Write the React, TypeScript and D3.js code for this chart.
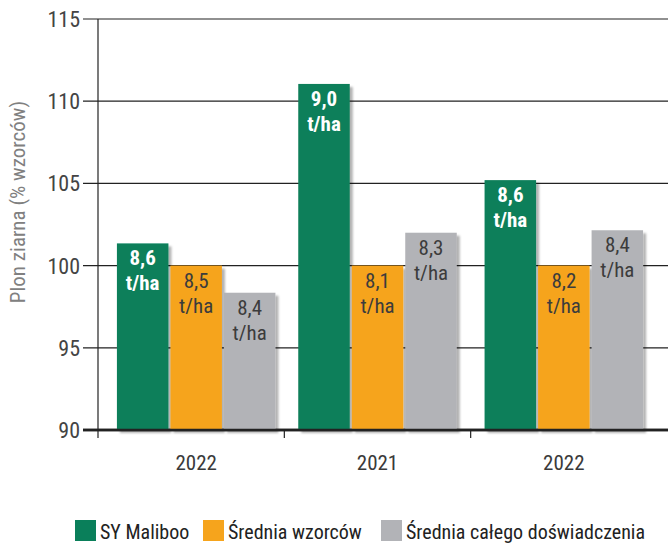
import React from "react";
import * as d3 from "d3";

// chart data
const years = ["2022", "2021", "2022 "];
const series = ["SY Maliboo", "Średnia wzorców", "Średnia całego doświadczenia"];
const colors = ["#0a7f5a", "#f6a41c", "#b2b3b7"];
// relative yield (% of standards)
const values = [
  [101.35, 100, 98.35],
  [111.05, 100, 102.0],
  [105.2, 100, 102.15],
];
// absolute yield labels
const yieldLabels = [
  ["8,6", "8,5", "8,4"],
  ["9,0", "8,1", "8,3"],
  ["8,6", "8,2", "8,4"],
];
const yTicks = [90, 95, 100, 105, 110, 115];

const W = 668;
const H = 550;
const FONT = "'Liberation Sans Narrow', 'Arial Narrow', 'Roboto Condensed', 'Liberation Sans', sans-serif";

const App = () => {
  const left = 98;
  const right = 657;
  const top = 19;
  const bottom = 430;

  const y = d3.scaleLinear().domain([90, 115]).range([bottom, top]);
  const x0 = d3.scaleBand().domain(years).range([left, right]);
  const barW = 51.5;
  const step = 53.5;
  const x1 = d3.scaleLinear().domain([0, 2]).range([-step, step]);
  // first group is drawn slightly right of its band centre in the original
  const groupShift = [5, 0, 0];

  const legendX = [75, 203, 381];

  return (
    <svg
      width={W}
      height={H}
      style={{ position: "fixed", left: 0, top: 0, background: "#fff" }}
      fontFamily={FONT}
    >
      <defs>
        <filter id="shadow" x="-20%" y="-20%" width="150%" height="150%">
          <feDropShadow dx="3" dy="3" stdDeviation="1.2" floodColor="#000" floodOpacity="0.3" />
        </filter>
      </defs>

      {/* gridlines + y ticks */}
      {yTicks.map((t) => (
        <g key={t}>
          <line x1={83} x2={W} y1={y(t)} y2={y(t)} stroke="#222" strokeWidth={t === 90 ? 2.5 : 1.2} />
          <text x={80} y={y(t)} dy="0.36em" textAnchor="end" fontSize={22} fill="#444">
            {t}
          </text>
        </g>
      ))}

      {/* y axis */}
      <line x1={left} x2={left} y1={top} y2={bottom + 8} stroke="#222" strokeWidth={1.2} />
      <text
        transform={`translate(25, 202) rotate(-90)`}
        textAnchor="middle"
        fontSize={21}
        fill="#808080"
      >
        Plon ziarna (% wzorców)
      </text>

      {/* bars */}
      {years.map((yr, gi) => {
        const cx = x0(yr)! + x0.bandwidth() / 2 + groupShift[gi];
        return (
          <g key={gi}>
            {values[gi].map((v, si) => {
              const bx = cx + x1(si) - barW / 2;
              const by = y(v);
              const white = si === 0;
              return (
                <g key={si}>
                  <rect
                    x={bx}
                    y={by}
                    width={barW}
                    height={bottom - by}
                    fill={colors[si]}
                    filter="url(#shadow)"
                  />
                  <text
                    x={bx + barW / 2}
                    y={by + 22}
                    textAnchor="middle"
                    fontSize={21}
                    fontWeight={white ? "bold" : "normal"}
                    fill={white ? "#fff" : "#3c3c3c"}
                  >
                    {yieldLabels[gi][si]}
                  </text>
                  <text
                    x={bx + barW / 2}
                    y={by + 47}
                    textAnchor="middle"
                    fontSize={21}
                    fontWeight={white ? "bold" : "normal"}
                    fill={white ? "#fff" : "#3c3c3c"}
                  >
                    t/ha
                  </text>
                </g>
              );
            })}
            <text x={cx} y={470} textAnchor="middle" fontSize={21} fill="#3a3a3a">
              {yr.trim()}
            </text>
          </g>
        );
      })}

      {/* x axis baseline + separators */}
      <line x1={83} x2={W} y1={bottom} y2={bottom} stroke="#222" strokeWidth={2.5} />
      {years.slice(1).map((yr, i) => (
        <line key={i} x1={x0(yr)} x2={x0(yr)} y1={bottom} y2={bottom + 8} stroke="#222" strokeWidth={1.2} />
      ))}

      {/* legend */}
      {series.map((s, i) => (
        <g key={s}>
          <rect x={legendX[i]} y={520} width={21} height={21} fill={colors[i]} />
          <text x={legendX[i] + 25} y={539} fontSize={20} fill="#222">
            {s}
          </text>
        </g>
      ))}
    </svg>
  );
};

export default App;
